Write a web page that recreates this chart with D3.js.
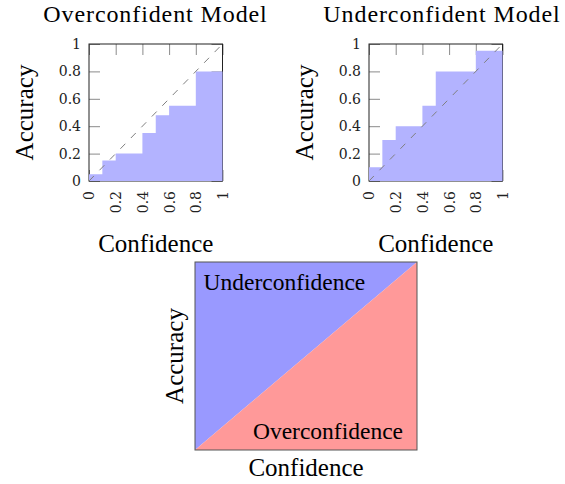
<!DOCTYPE html>
<html lang="en">
<head>
<meta charset="UTF-8">
<title>Overconfident vs. Underconfident Model</title>
<script src="https://d3js.org/d3.v7.min.js"></script>
<style>
  body {
    margin: 0;
    background: #fff;
  }

  svg {
    display: block;
    font-family: "Liberation Serif", "Times New Roman", serif;
  }

  .tick text {
    font-family: "DejaVu Serif", serif;
    font-size: 14px;
    fill: #222;
  }

  .tick line {
    stroke: #8a8a8a;
  }

  .big {
    font-size: 25px;
    fill: #000;
  }

  .title {
    font-size: 24px;
    letter-spacing: 0.9px;
    fill: #000;
  }

  .region {
    font-size: 23.5px;
    fill: #000;
  }
</style>
</head>
<body>
<div id="chart"></div>
<script>
  // bin edges (confidence) and accuracy per bin
  const binEdges = [0, 0.1, 0.2, 0.3, 0.4, 0.5, 0.6, 0.7, 0.8, 0.9, 1];
  const overAcc = [0.05, 0.15, 0.2, 0.2, 0.35, 0.48, 0.55, 0.55, 0.8, 0.8];
  const underAcc = [0.1, 0.3, 0.4, 0.4, 0.55, 0.8, 0.8, 0.8, 0.95, 0.95];
  const tickValues = [0, 0.2, 0.4, 0.6, 0.8, 1];
  const tickLabels = ["0", "0.2", "0.4", "0.6", "0.8", "1"];
  const panelTitles = ["Overconfident Model", "Underconfident Model"];
  const diagonal = [0, 1];
  const regionLabels = ["Underconfidence", "Overconfidence"];

  const svg = d3.select("#chart")
    .append("svg")
    .attr("width", 565)
    .attr("height", 484);

  const boxW = 133.5, boxH = 137, boxTop = 44, tickLen = 11;

  function panel(left, title, titleX, acc) {
    const g = svg.append("g");
    const x = d3.scaleLinear().domain([0, 1]).range([left, left + boxW]);
    const y = d3.scaleLinear().domain([0, 1]).range([boxTop + boxH, boxTop]);
    const fmt = (d, i) => tickLabels[i];

    // inward ticks on all four sides
    g.append("g")
      .attr("transform", "translate(" + x(0) + ",0)")
      .call(d3.axisLeft(y).tickValues(tickValues).tickFormat(fmt)
        .tickSizeInner(-tickLen).tickSizeOuter(0).tickPadding(8))
      .call(a => a.select(".domain").remove());

    g.append("g")
      .attr("transform", "translate(" + x(1) + ",0)")
      .call(d3.axisRight(y).tickValues(tickValues).tickFormat("")
        .tickSizeInner(-tickLen).tickSizeOuter(0))
      .call(a => a.select(".domain").remove());

    g.append("g")
      .attr("transform", "translate(0," + y(1) + ")")
      .call(d3.axisTop(x).tickValues(tickValues).tickFormat("")
        .tickSizeInner(-tickLen).tickSizeOuter(0))
      .call(a => a.select(".domain").remove());

    g.append("g")
      .attr("transform", "translate(0," + y(0) + ")")
      .call(d3.axisBottom(x).tickValues(tickValues).tickFormat(fmt)
        .tickSizeInner(-tickLen).tickSizeOuter(0))
      .call(a => a.select(".domain").remove())
      .selectAll("text")
      .attr("transform", "rotate(-90)")
      .attr("x", -10)
      .attr("y", 0)
      .attr("dy", "0.35em")
      .style("text-anchor", "end");

    g.append("rect")
      .attr("x", x(0))
      .attr("y", y(1))
      .attr("width", x(1) - x(0))
      .attr("height", y(0) - y(1))
      .attr("fill", "none")
      .attr("stroke", "#222")
      .attr("stroke-width", 1);

    // const (step) plot of accuracy per bin
    const pts = binEdges.map((e, i) => ({c: e, a: acc[Math.min(i, acc.length - 1)]}));
    g.append("path")
      .datum(pts)
      .attr("fill", "#b3b3ff")
      .attr("d", d3.area()
        .curve(d3.curveStepAfter)
        .x(d => x(d.c))
        .y0(y(0))
        .y1(d => y(d.a)));

    g.append("path")
      .datum(diagonal)
      .attr("fill", "none")
      .attr("stroke", "#808080")
      .attr("stroke-width", 1)
      .attr("stroke-dasharray", "7,8")
      .attr("d", d3.line().x(d => x(d)).y(d => y(d)));

    g.append("text")
      .attr("class", "title")
      .attr("text-anchor", "middle")
      .attr("x", titleX)
      .attr("y", 21.5)
      .text(title);

    g.append("text")
      .attr("class", "big")
      .attr("text-anchor", "middle")
      .attr("x", (x(0) + x(1)) / 2)
      .attr("y", 251.5)
      .text("Confidence");

    g.append("text")
      .attr("class", "big")
      .attr("text-anchor", "middle")
      .attr("transform", "translate(" + (x(0) - 56) + "," + ((y(0) + y(1)) / 2) + ") rotate(-90)")
      .text("Accuracy");
  }

  panel(89, panelTitles[0], 155.5, overAcc);
  panel(369, panelTitles[1], 442, underAcc);

  // bottom sketch: regions either side of the diagonal
  const x3 = d3.scaleLinear().domain([0, 1]).range([195, 417]);
  const y3 = d3.scaleLinear().domain([0, 1]).range([450, 262]);
  const g3 = svg.append("g");

  g3.append("path")
    .datum(diagonal)
    .attr("fill", "#9999ff")
    .attr("d", d3.area().x(d => x3(d)).y0(d => y3(d)).y1(y3(1)));

  g3.append("path")
    .datum(diagonal)
    .attr("fill", "#ff9999")
    .attr("d", d3.area().x(d => x3(d)).y0(y3(0)).y1(d => y3(d)));

  g3.append("rect")
    .attr("x", x3(0))
    .attr("y", y3(1))
    .attr("width", x3(1) - x3(0))
    .attr("height", y3(0) - y3(1))
    .attr("fill", "none")
    .attr("stroke", "#555")
    .attr("stroke-width", 1);

  g3.append("text")
    .attr("class", "region")
    .attr("x", x3(0) + 8.5)
    .attr("y", 290)
    .text(regionLabels[0]);

  g3.append("text")
    .attr("class", "region")
    .attr("text-anchor", "end")
    .attr("x", x3(1) - 14)
    .attr("y", 438.5)
    .text(regionLabels[1]);

  g3.append("text")
    .attr("class", "big")
    .attr("text-anchor", "middle")
    .attr("x", (x3(0) + x3(1)) / 2)
    .attr("y", 476)
    .text("Confidence");

  g3.append("text")
    .attr("class", "big")
    .attr("text-anchor", "middle")
    .attr("transform", "translate(183," + ((y3(0) + y3(1)) / 2) + ") rotate(-90)")
    .text("Accuracy");
</script>
</body>
</html>
